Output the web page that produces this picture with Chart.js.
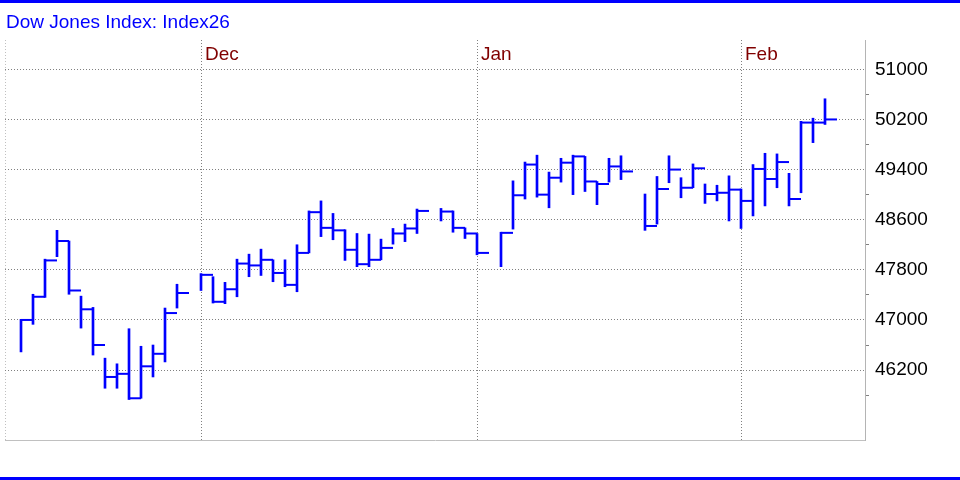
<!DOCTYPE html>
<html>
<head>
<meta charset="utf-8">
<script src="https://cdn.jsdelivr.net/npm/chart.js@4/dist/chart.umd.min.js"></script>
<style>
  body { margin: 0; background: #fff; }
  #wrap { position: relative; width: 960px; height: 480px; overflow: hidden; }
  #chart { position: absolute; left: 0; top: 0; }
  .rule { position: absolute; left: 0; width: 960px; height: 3px; background: #0000ff; }
  #title { position: absolute; left: 6px; top: 12px; font: 19px Arial, "Liberation Sans", sans-serif; line-height: 19px; color: #0000ff; white-space: nowrap; }
</style>
</head>
<body>
<div id="wrap">
  <canvas id="chart" width="960" height="480"></canvas>
  <div class="rule" style="top:0"></div>
  <div class="rule" style="top:477px"></div>
  <div id="title">Dow Jones Index: Index26</div>
</div>
<script>
// weekday slots, holidays kept as empty slots (null values)
const dates = [
  '2025-11-07','2025-11-10','2025-11-11','2025-11-12','2025-11-13','2025-11-14',
  '2025-11-17','2025-11-18','2025-11-19','2025-11-20','2025-11-21',
  '2025-11-24','2025-11-25','2025-11-26','2025-11-27','2025-11-28',
  '2025-12-01','2025-12-02','2025-12-03','2025-12-04','2025-12-05',
  '2025-12-08','2025-12-09','2025-12-10','2025-12-11','2025-12-12',
  '2025-12-15','2025-12-16','2025-12-17','2025-12-18','2025-12-19',
  '2025-12-22','2025-12-23','2025-12-24','2025-12-25','2025-12-26',
  '2025-12-29','2025-12-30','2025-12-31','2026-01-01','2026-01-02',
  '2026-01-05','2026-01-06','2026-01-07','2026-01-08','2026-01-09',
  '2026-01-12','2026-01-13','2026-01-14','2026-01-15','2026-01-16',
  '2026-01-19','2026-01-20','2026-01-21','2026-01-22','2026-01-23',
  '2026-01-26','2026-01-27','2026-01-28','2026-01-29','2026-01-30',
  '2026-02-02','2026-02-03','2026-02-04','2026-02-05','2026-02-06',
  '2026-02-09','2026-02-10'
];

const highs = [
  47010, 47410, 47970, 48430, 48260, 47380,
  47200, 46390, 46300, 46860, 46580,
  46600, 47190, 47570, null, 47740,
  47690, 47600, 47970, 48050, 48130,
  47960, 47960, 48200, 48740, 48900,
  48700, 48440, 48380, 48370, 48290,
  48460, 48530, 48770, null, 48780,
  48740, 48470, 48380, null, 48400,
  49220, 49520, 49630, 49360, 49580,
  49630, 49610, 49210, 49580, 49620,
  null, 49010, 49290, 49620, 49270,
  49490, 49170, 49150, 49300, 49090,
  49480, 49660, 49650, 49340, 50170,
  50220, 50530
];

const lows = [
  46490, 46930, 47360, 48010, 47410, 46870,
  46440, 45910, 45910, 45730, 45750,
  46090, 46330, 47190, null, 47470,
  47270, 47260, 47370, 47690, 47710,
  47610, 47530, 47450, 48070, 48330,
  48280, 47950, 47850, 47850, 47960,
  48210, 48250, 48380, null, 48580,
  48400, 48300, 48040, null, 47850,
  48450, 48930, 48960, 48790, 49200,
  49000, 49050, 48840, 49200, 49240,
  null, 48430, 48530, 49190, 48950,
  49110, 48860, 48900, 48580, 48460,
  48660, 48820, 49110, 48820, 49030,
  49830, 50120
];

const closes = [
  47000, 47370, 47950, 48260, 47470, 47170,
  46600, 46090, 46140, 45750, 46260,
  46460, 47110, 47430, null, 47720,
  47290, 47490, 47900, 47870, 47960,
  47750, 47560, 48070, 48720, 48470,
  48430, 48120, 47890, 47960, 48150,
  48380, 48460, 48740, null, 48730,
  48470, 48380, 48070, null, 48390,
  48990, 49480, 49000, 49270, 49510,
  49610, 49210, 49170, 49450, 49370,
  null, 48500, 49090, 49400, 49110,
  49420, 49010, 49030, 49080, 48900,
  49410, 49250, 49520, 48930, 50150,
  50150, 50200
];

const monthNames = ['Jan','Feb','Mar','Apr','May','Jun','Jul','Aug','Sep','Oct','Nov','Dec'];
const yLabelStep = 800;
const yMinorStep = 200;

// gridline at the last slot of each month
const monthIdx = [];
const monthText = [];
for (let i = 0; i < dates.length - 1; i++) {
  if (dates[i].slice(5, 7) !== dates[i + 1].slice(5, 7)) {
    monthIdx.push(i);
    monthText.push(monthNames[parseInt(dates[i + 1].slice(5, 7), 10) - 1]);
  }
}

const hlData = [];
const closeData = [];
dates.forEach((d, i) => {
  if (highs[i] === null) return;
  hlData.push({ x: i, y: [lows[i], highs[i]] });
  closeData.push({ x: i + 0.5, y: closes[i] });
});

const FONT = 'Arial, "Liberation Sans", sans-serif';

const monthLabels = {
  id: 'monthLabels',
  afterDraw(chart) {
    const { ctx, chartArea } = chart;
    const x = chart.scales.x;
    ctx.save();
    ctx.font = '19px ' + FONT;
    ctx.fillStyle = '#800000';
    ctx.textBaseline = 'alphabetic';
    monthIdx.forEach((v, k) => {
      ctx.fillText(monthText[k], x.getPixelForValue(v) + 4, chartArea.top + 20);
    });
    ctx.restore();
  }
};

const isMajor = v => ((v - 46200) % yLabelStep + yLabelStep) % yLabelStep === 0;

new Chart(document.getElementById('chart'), {
  type: 'bar',
  data: {
    datasets: [
      {
        type: 'bar',
        data: hlData,
        backgroundColor: '#0000ff',
        borderWidth: 0,
        barThickness: 2,
        grouped: false
      },
      {
        type: 'scatter',
        data: closeData,
        pointStyle: 'line',
        pointRadius: 6,
        pointHoverRadius: 6,
        borderColor: '#0000ff',
        borderWidth: 2,
        showLine: false
      }
    ]
  },
  options: {
    responsive: false,
    animation: false,
    events: [],
    layout: { autoPadding: false, padding: { left: 5, top: 40, right: 0, bottom: 40 } },
    plugins: { legend: { display: false }, tooltip: { enabled: false }, title: { display: false } },
    scales: {
      x: {
        type: 'linear',
        offset: false,
        min: -16 / 12,
        max: 844 / 12,
        afterBuildTicks: s => {
          s.ticks = [{ value: s.min }].concat(monthIdx.map(v => ({ value: v })));
        },
        afterFit: s => {
          s.height = 0;
          s.paddingLeft = 0;
          s.paddingRight = 0;
        },
        ticks: { display: false },
        grid: {
          offset: false,
          drawTicks: false,
          color: ctx => ctx.index === 0 ? '#c0c0c0' : '#808080',
          lineWidth: 1
        },
        border: { display: true, color: '#c0c0c0', width: 1, dash: [1, 2] }
      },
      y: {
        position: 'right',
        min: 45084,
        max: 51468,
        afterBuildTicks: s => {
          const t = [];
          for (let v = 45800; v <= 51000; v += yMinorStep) t.push({ value: v });
          t.push({ value: s.max });
          s.ticks = t;
        },
        afterFit: s => {
          s.width = 95;
          s.paddingTop = 0;
          s.paddingBottom = 0;
        },
        ticks: {
          padding: 6,
          color: '#000',
          font: { family: FONT, size: 19 },
          callback: v => isMajor(v) && v <= 51000 ? String(v) : ''
        },
        grid: {
          drawTicks: true,
          tickLength: 4,
          tickBorderDash: [],
          color: ctx => {
            const v = ctx.tick.value;
            if (v > 51000) return '#c0c0c0';
            return isMajor(v) ? '#808080' : 'rgba(0,0,0,0)';
          },
          tickColor: ctx => {
            const v = ctx.tick.value;
            return (!isMajor(v) && v <= 51000) ? '#808080' : 'rgba(0,0,0,0)';
          },
          lineWidth: 1
        },
        border: { display: true, color: '#b4b4b4', width: 1, dash: [1, 2] }
      }
    }
  },
  plugins: [monthLabels]
});
</script>
</body>
</html>
